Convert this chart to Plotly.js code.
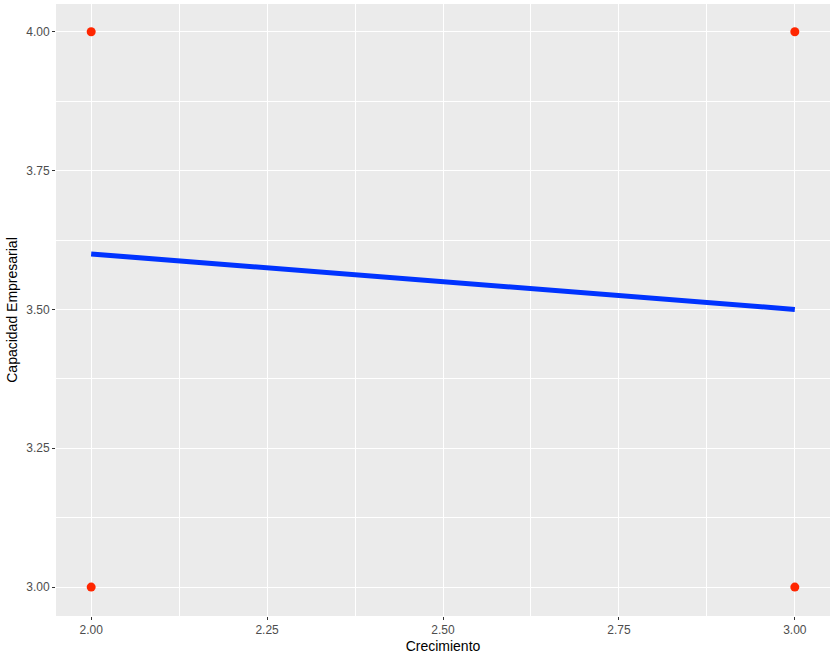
<html>
<head>
    <script src="https://cdn.plot.ly/plotly-3.0.1.min.js"></script>
    <style>
        body { margin: 0; padding: 0; background: white; }
        #chart { width: 836px; height: 656px; }
    </style>
</head>
<body>
    <div id="chart"></div>
    <script>
        // observed points
        const crecimiento = [2, 2, 3, 3];
        const capacidad = [4, 3, 4, 3];

        // fitted regression line (lm)
        const fitX = [2, 3];
        const fitY = [3.6, 3.5];

        const xTicks = [2.00, 2.25, 2.50, 2.75, 3.00];
        const yTicks = [3.00, 3.25, 3.50, 3.75, 4.00];

        const puntos = {
            x: crecimiento,
            y: capacidad,
            type: 'scatter',
            mode: 'markers',
            marker: { color: '#ff2600', size: 9 },
            hoverinfo: 'x+y'
        };

        const recta = {
            x: fitX,
            y: fitY,
            type: 'scatter',
            mode: 'lines',
            line: { color: '#0033ff', width: 5 }
        };

        const axisBase = {
            showgrid: true,
            gridcolor: 'white',
            gridwidth: 1.2,
            zeroline: false,
            showline: false,
            ticks: 'outside',
            ticklen: 3,
            tickcolor: '#333333',
            tickwidth: 1,
            tickfont: { family: 'Liberation Sans, Arial', size: 12, color: '#4d4d4d' },
            tickformat: '.2f',
            minor: { showgrid: true, gridcolor: 'white', gridwidth: 0.5, ticks: '' }
        };

        const layout = {
            width: 836,
            height: 656,
            margin: { l: 56, r: 6, t: 4, b: 40 },
            paper_bgcolor: 'white',
            plot_bgcolor: '#ebebeb',
            showlegend: false,
            font: { family: 'Liberation Sans, Arial' },
            xaxis: Object.assign({}, axisBase, {
                range: [1.95, 3.05],
                tickvals: xTicks,
                minor: Object.assign({}, axisBase.minor, { tickvals: [2.125, 2.375, 2.625, 2.875] }),
                title: { text: 'Crecimiento', font: { size: 14, color: 'black' }, standoff: 4 }
            }),
            yaxis: Object.assign({}, axisBase, {
                range: [2.948, 4.05],
                tickvals: yTicks,
                minor: Object.assign({}, axisBase.minor, { tickvals: [3.125, 3.375, 3.625, 3.875] }),
                title: { text: 'Capacidad Empresarial', font: { size: 14, color: 'black' }, standoff: 5 }
            })
        };

        Plotly.newPlot('chart', [recta, puntos], layout, { displayModeBar: false });
    </script>
</body>
</html>
